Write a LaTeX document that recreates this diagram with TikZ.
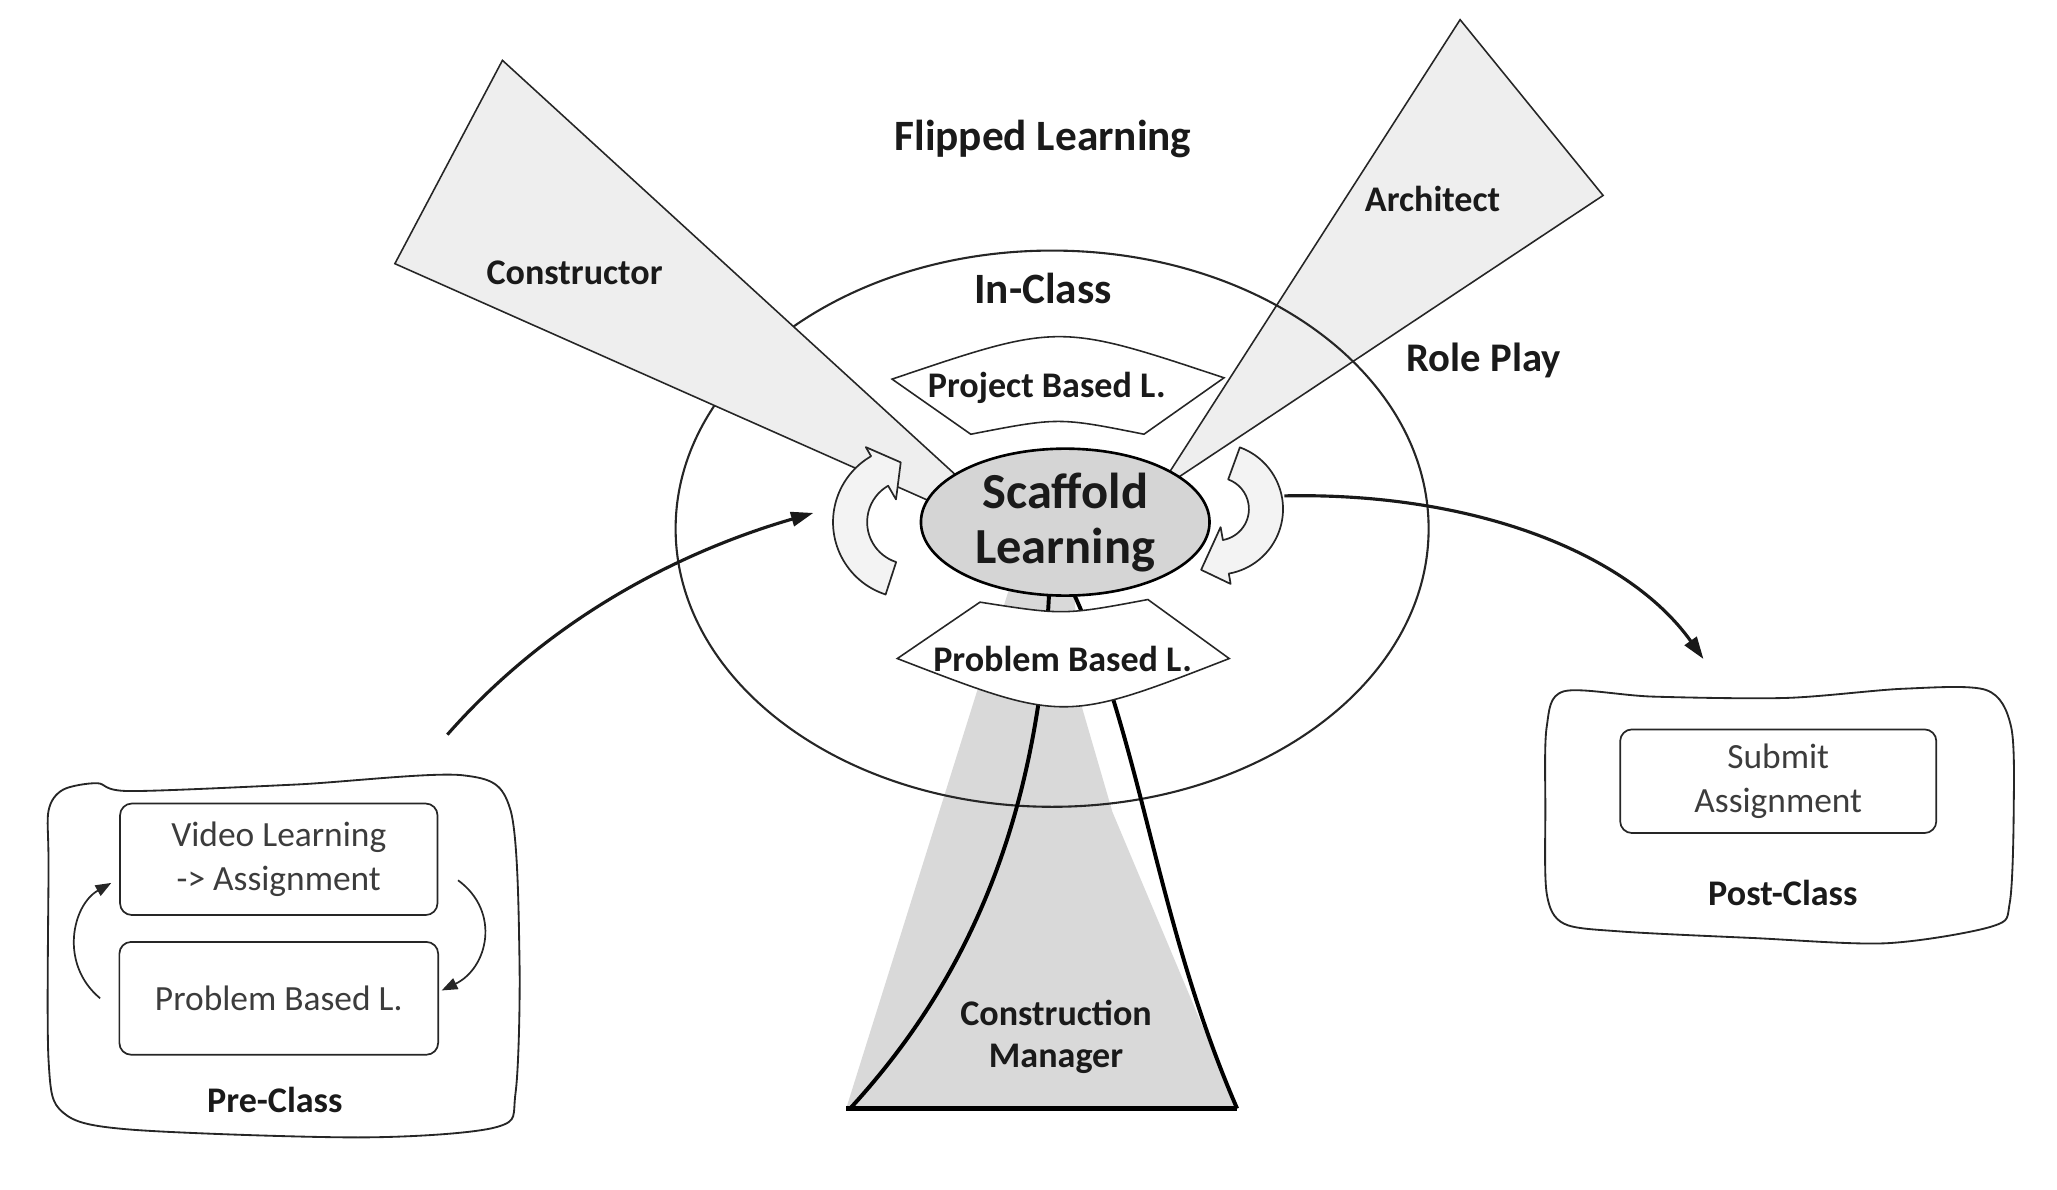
\documentclass[tikz,border=0pt]{standalone}
\usepackage{fontspec}
\setmainfont{Carlito}
\usepackage{xcolor}
\usepackage{tikz}
\usetikzlibrary{arrows.meta, shapes.geometric, calc}

\definecolor{beamgray}{HTML}{EEEEEE}
\definecolor{cmgray}{HTML}{D9D9D9}
\definecolor{scafgray}{HTML}{D5D5D5}
\definecolor{turngray}{HTML}{F3F3F3}
\definecolor{inktext}{HTML}{1A1A1A}
\definecolor{softtext}{HTML}{3C3C3C}

\tikzset{
  beam/.style={fill=beamgray, draw=black!85, line width=1.2pt},
  banner/.style={fill=white, draw=black!85, line width=1.2pt},
  turnarrow/.style={fill=turngray, draw=black!85, line width=1.3pt, line join=round},
  cmline/.style={draw=black, line width=3pt},
  flowarrow/.style={-{Triangle[length=17pt,width=11pt]}, line width=2.4pt, black!90},
  looparrow/.style={-{Triangle[length=12pt,width=9pt]}, line width=1.3pt, black!85},
  lbl/.style={font=\bfseries\fontsize{27.5}{32}\selectfont, text=inktext, inner sep=0pt, anchor=base},
  sublbl/.style={font=\fontsize{27}{33}\selectfont, text=softtext, align=center},
  taskbox/.style={draw=black!85, line width=1.3pt, rounded corners=9pt, inner sep=0pt, sublbl},
  phasebox/.style={draw=black!85, line width=1.4pt},
}

\begin{document}
\begin{tikzpicture}[x=1pt, y=-1pt]
        \useasboundingbox (0,0) rectangle (1568,907);

        % 建筑师光束
        \draw[beam] (1113,15) -- (1222,149) -- (895,366) -- (885,370) -- cycle;
        % 施工经理光束
        \fill[cmgray] (772,440) -- (645,845) -- (943,845) -- (848,619) -- (825,540) -- (818,440) -- cycle;

        % 课堂椭圆
        \draw[line width=1.6pt, black!85] (802,403) ellipse (287 and 212);

        % 施工者光束
        \draw[beam] (383,46) -- (301,201) -- (720,387) -- (735,368) -- cycle;

        % 施工经理边线
        \draw[cmline] (800,445) .. controls (793,620) and (740,745) .. (648,845);
        \draw[cmline] (815,445) .. controls (870,560) and (880,700) .. (943,845);
        \draw[cmline, line width=4pt] (645,845) -- (943,845);

        % 项目 / 问题 横幅
        \draw[banner] (680,289) .. controls (807,246) .. (933,288) -- (872,331) .. controls (807,318) .. (740,331) -- cycle;
        \draw[banner] (684,502) -- (747,459) .. controls (811,469) .. (875,457) -- (937,502) .. controls (811,551) .. (684,502) -- cycle;

        % 中心
        \node[ellipse, draw=black, line width=2pt, fill=scafgray, minimum width=220pt, minimum height=112pt,
              inner sep=0pt, align=center, font=\bfseries\fontsize{38.5}{42}\selectfont, text=inktext]
              (scaffold) at (812,398) {Scaffold\\Learning};

        % 循环箭头
        \begin{scope}[shift={(693,398)}]
            \draw[turnarrow] (108:58) arc (108:240:58) -- (240:66) -- (262:46) -- (240:20) -- (240:32) arc (240:108:32) -- cycle;
        \end{scope}
        \begin{scope}[shift={(928,388)}]
            \draw[turnarrow] (290:50) arc (290:440:50) -- (440:58) -- (465:48) -- (440:14) -- (440:24) arc (440:290:24) -- cycle;
        \end{scope}

        % 文字
        \node[lbl, font=\bfseries\fontsize{33}{38}\selectfont] (flipped) at (795,115) {Flipped Learning};
        \node[lbl] (constructor) at (438,217) {Constructor};
        \node[lbl, font=\bfseries\fontsize{33}{38}\selectfont] (inclass) at (795,231) {In-Class};
        \node[lbl] (architect) at (1092,161) {Architect};
        \node[lbl, font=\bfseries\fontsize{31}{36}\selectfont] (roleplay) at (1131,283) {Role Play};
        \node[lbl] (pjbl) at (798,303) {Project Based L.};
        \node[lbl] (pbl) at (810,512) {Problem Based L.};
        \node[lbl, align=center, anchor=center] (cmanager) at (805,790) {Construction\\Manager};

        % 课前
        \draw[phasebox] plot[smooth cycle, tension=0.5] coordinates {(48,602) (74,597) (99,603) (226,598) (353,591) (389,617)
            (396,732) (393,833) (379,859) (277,867) (99,861) (48,848) (37,808) (37,660) (37,618)};
        \node[taskbox, minimum width=242pt, minimum height=85pt] (video) at (212.5,655) {Video Learning\\-> Assignment};
        \node[taskbox, minimum width=243pt, minimum height=86pt] (pblpre) at (212.5,761) {Problem Based L.};
        \node[lbl] (preclass) at (209.5,848) {Pre-Class};
        \draw[looparrow] ([xshift=-14pt]pblpre.west) .. controls (45,735) and (55,690) .. ([xshift=-6pt,yshift=-18pt]video.west);
        \draw[looparrow] ([xshift=15pt,yshift=-16pt]video.east) .. controls (382,695) and (372,738) .. ([xshift=2pt,yshift=6pt]pblpre.east);

        % 课后
        \draw[phasebox] plot[smooth cycle, tension=0.5] coordinates {(1192,527) (1260,531) (1362,532) (1451,525) (1514,526) (1533,554)
            (1535,617) (1532,688) (1519,706) (1438,719) (1336,715) (1235,710) (1192,704) (1179,681) (1178,617) (1179,554)};
        \node[taskbox, minimum width=241pt, minimum height=79pt] (submit) at (1355.5,595.5) {Submit\\Assignment};
        \node[lbl] (postclass) at (1359,690) {Post-Class};

        % 流程箭头
        \coordinate (prestart) at (341,560);
        \draw[flowarrow] (prestart) .. controls (420,470) and (520,420) .. ([xshift=-81pt,yshift=7pt]scaffold.west);
        \draw[flowarrow] ([xshift=56pt,yshift=20pt]scaffold.east) .. controls (1120,375) and (1240,420) .. ([xshift=-57pt,yshift=53pt]submit.north);
    \end{tikzpicture}
\end{document}
